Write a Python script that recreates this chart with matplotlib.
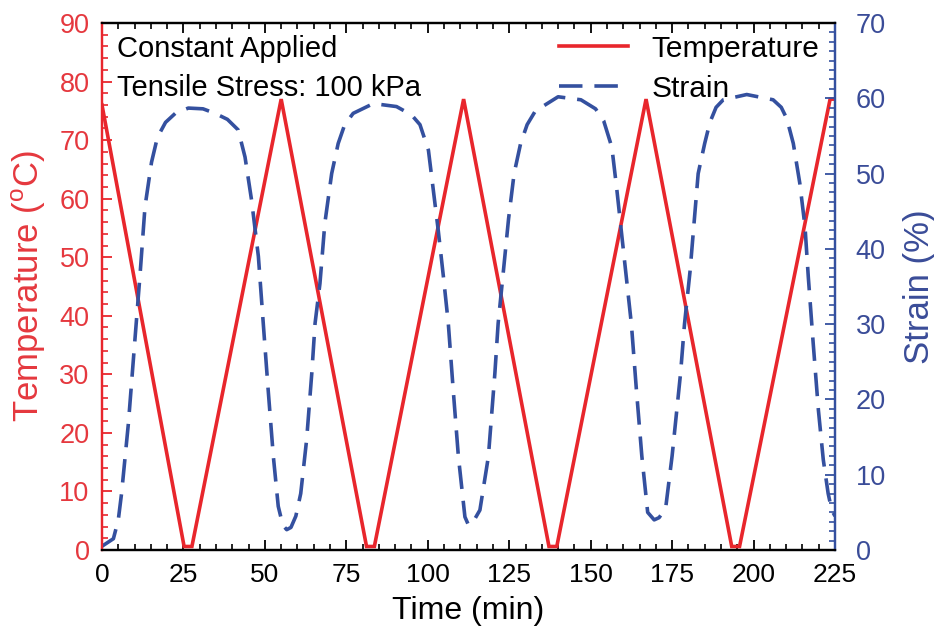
import numpy as np
import matplotlib
matplotlib.use("Agg")
import matplotlib.pyplot as plt
from matplotlib.ticker import MultipleLocator
from matplotlib.lines import Line2D

plt.rcParams['font.family'] = ['Liberation Sans', 'DejaVu Sans']
plt.rcParams['mathtext.fontset'] = 'custom'
plt.rcParams['mathtext.rm'] = 'Liberation Sans'

# temperature program (min, degC)
time_temp = [0, 25.2, 27.6, 55, 81.2, 83.6, 111, 137.2, 139.6, 167, 193.3, 195.7, 223.5, 225]
temp = [76, 0.6, 0.6, 77, 0.6, 0.6, 77, 0.6, 0.6, 77, 0.6, 0.6, 77, 77]

# measured strain (min, %)
time_strain = [0, 3.5, 5, 6, 8.1, 10.1, 11.7, 13.2, 15.2, 17, 19.5, 22.5, 26.5, 31, 34.7,
               38.5, 41.8, 43.9, 45.9, 48.0, 49.5, 51.0, 52.6, 54.1, 55.5, 56.7, 58, 59.5,
               61, 62.8, 64.4, 65.4, 66.9, 68.4, 70.5, 72.5, 74.5, 77.1, 83.3, 90.4, 95,
               97.6, 100.2, 101.7, 103.2, 104.8, 106.3, 107.8, 109.4, 111.4, 112.5, 114,
               116, 118.6, 120.6, 121.6, 123.2, 124.8, 126.5, 128.5, 130.5, 133, 140, 147,
               151.5, 154, 156.5, 158, 159.5, 161, 162.5, 164, 165.7, 167.5, 169.5, 171,
               173, 175, 177.6, 178.8, 180.5, 183, 185, 186.6, 188.5, 190.7, 197.9, 206,
               208.5, 210.2, 212.2, 214.2, 215.8, 216.8, 218.3, 219.9, 221.4, 222.9, 224,
               225]
strain = [0.5, 1.5, 4, 7.5, 16.8, 27.9, 36.7, 45.6, 51.5, 54.8, 56.8, 58.0, 58.7, 58.6, 58.0,
          57.2, 55.8, 52.2, 46.5, 39.0, 30.1, 21.3, 12.4, 5.8, 3.3, 2.7, 3.0, 4.5,
          7.5, 14.6, 23.5, 30.1, 35.4, 43.4, 50, 54.0, 56.5, 58, 59.3, 58.9, 57.8,
          56.5, 53.1, 47.8, 42.5, 36.3, 30.1, 21.3, 12.4, 4.4, 3.3, 3.8,
          5.3, 12.4, 23.5, 30.1, 37, 44, 50, 54.0, 56.5, 58.3, 60.2, 59.8,
          58.6, 57.0, 53.5, 48, 42, 36, 30, 21.5, 12.5, 5, 4, 4.3,
          5.5, 12.5, 23.5, 30, 37, 50, 54.0, 56.8, 58.8, 59.8, 60.5, 59.8,
          58.8, 57.3, 54, 48.7, 42.9, 36.3, 27.5, 18.6, 12, 7.5, 5.3,
          4.5]

red = '#E8262C'
blue = '#34509F'
red_txt = '#E5383E'
blue_txt = '#3A4C98'
dash = (6.5, 3.3)

fig = plt.figure(figsize=(9.34, 6.34), dpi=100)
ax = fig.add_axes([102 / 934, 1 - 550 / 634, 733 / 934, 527 / 634])
ax2 = ax.twinx()

ax.plot(time_temp, temp, color=red, lw=2.6, solid_joinstyle='miter', zorder=3)
ax2.plot(time_strain, strain, color=blue, lw=2.6, dashes=dash, zorder=2)

ax.set_xlim(0, 225)
ax.set_ylim(0, 90)
ax2.set_ylim(0, 70)

ax.xaxis.set_major_locator(MultipleLocator(25))
ax.xaxis.set_minor_locator(MultipleLocator(5))
ax.yaxis.set_major_locator(MultipleLocator(10))
ax.yaxis.set_minor_locator(MultipleLocator(2))
ax2.yaxis.set_major_locator(MultipleLocator(10))
ax2.yaxis.set_minor_locator(MultipleLocator(1.25))

ax.tick_params(axis='x', which='both', direction='in', top=True, bottom=True,
               colors='black', labelsize=19, pad=9)
ax.tick_params(axis='x', which='major', length=7, width=1.3)
ax.tick_params(axis='x', which='minor', length=4, width=1.2)
ax.tick_params(axis='y', which='both', direction='in', colors=red, labelcolor=red_txt,
               labelsize=19.5, pad=9)
ax.tick_params(axis='y', which='major', length=7, width=1.3)
ax.tick_params(axis='y', which='minor', length=4, width=1.2)
ax2.tick_params(axis='y', which='both', direction='in', colors=blue, labelcolor=blue_txt,
                labelsize=19.5, pad=15)
ax2.tick_params(axis='y', which='major', length=7, width=1.3)
ax2.tick_params(axis='y', which='minor', length=4, width=1.2)

for a in (ax, ax2):
    a.spines['top'].set_color('black')
    a.spines['bottom'].set_color('black')
    a.spines['left'].set_color(red)
    a.spines['right'].set_color(blue)
    for s in a.spines.values():
        s.set_linewidth(1.6)

ax.set_xlabel('Time (min)', fontsize=23, labelpad=7)
ax.set_ylabel('Temperature ($^{\\mathrm{o}}$C)', fontsize=25, color=red_txt, labelpad=8)
ax2.set_ylabel('Strain (%)', fontsize=25, color=blue_txt, labelpad=12)

ax.text(0.02, 0.978, 'Constant Applied\nTensile Stress: 100 kPa', transform=ax.transAxes,
        fontsize=21, va='top', ha='left', linespacing=1.5)

handles = [Line2D([], [], color=red, lw=2.6),
           Line2D([], [], color=blue, lw=2.6, dashes=dash)]
ax.legend(handles, ['Temperature', 'Strain'], loc='upper right', frameon=False,
          fontsize=21.5, handlelength=2.3, handletextpad=0.8, labelspacing=0.4,
          borderaxespad=0.0, bbox_to_anchor=(0.995, 1.0))

fig.savefig('out.png', dpi=100)
